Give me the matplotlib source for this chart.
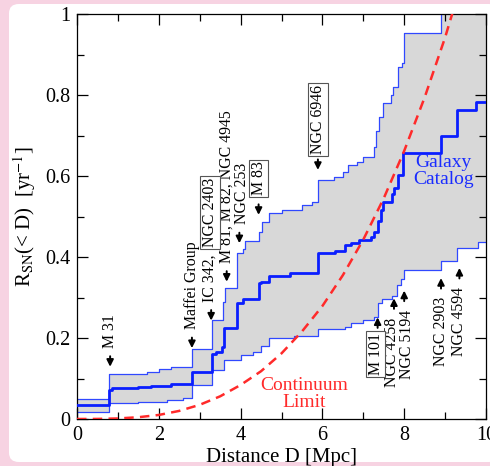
import matplotlib
matplotlib.use('Agg')
import matplotlib.pyplot as plt
from matplotlib.patches import FancyBboxPatch
import numpy as np

plt.rcParams['font.family'] = ['Liberation Serif', 'DejaVu Serif']
plt.rcParams['mathtext.fontset'] = 'stix'

# --- galaxy catalog: upper / lower band and central value (steps, where='post')
upper_d = [0, 0.78, 1.7, 2.0, 2.3, 2.8, 3.3, 3.58, 3.62, 3.9, 4.05, 4.1, 4.45, 4.52, 4.7, 5.0,
           5.5, 5.75, 5.9, 6.28, 6.5, 6.62, 6.85, 7.0, 7.26, 7.32, 7.38, 7.47, 7.67, 7.72, 7.84,
           7.95, 8.0, 8.9, 10]
upper_v = [0.049, 0.111, 0.116, 0.124, 0.128, 0.173, 0.244, 0.29, 0.323, 0.41, 0.42, 0.44, 0.462,
           0.487, 0.508, 0.515, 0.528, 0.535, 0.59, 0.598, 0.61, 0.627, 0.635, 0.648, 0.672, 0.71,
           0.746, 0.78, 0.80, 0.82, 0.87, 0.88, 0.952, 1.05, 1.05]

lower_d = [0, 0.78, 1.5, 2.2, 2.6, 2.8, 3.3, 3.6, 4.0, 4.3, 4.5, 4.7, 5.3, 5.9, 6.55, 6.7, 7.0,
           7.25, 7.35, 7.45, 7.7, 7.83, 7.92, 8.0, 8.9, 9.3, 9.8, 10]
lower_v = [0.018, 0.039, 0.042, 0.046, 0.052, 0.084, 0.121, 0.146, 0.158, 0.165, 0.18, 0.2, 0.205,
           0.222, 0.227, 0.237, 0.244, 0.253, 0.286, 0.296, 0.304, 0.331, 0.345, 0.368, 0.39,
           0.422, 0.437, 0.437]

mid_d = [0, 0.78, 0.85, 1.5, 1.8, 2.3, 2.8, 3.3, 3.4, 3.55, 3.6, 3.9, 4.05, 4.45, 4.5, 4.7, 5.2,
         5.9, 6.3, 6.55, 6.7, 6.9, 7.2, 7.27, 7.35, 7.43, 7.47, 7.7, 7.75, 7.84, 7.98, 8.9, 9.3,
         9.75, 10]
mid_v = [0.035, 0.072, 0.076, 0.079, 0.082, 0.086, 0.115, 0.16, 0.165, 0.178, 0.224, 0.286, 0.297,
         0.335, 0.339, 0.353, 0.36, 0.41, 0.415, 0.43, 0.434, 0.442, 0.45, 0.462, 0.49, 0.516,
         0.537, 0.555, 0.57, 0.602, 0.656, 0.70, 0.763, 0.783, 0.783]

# --- continuum limit
cont_d = [0, 0.5, 1, 1.5, 2, 2.5, 3, 3.5, 4, 4.5, 5, 5.5, 6, 6.5, 7, 7.5, 8, 8.5, 9, 9.5]
cont_v = [0, 0.0002, 0.0013, 0.0044, 0.010, 0.020, 0.035, 0.056, 0.084, 0.118, 0.162, 0.216,
          0.279, 0.355, 0.443, 0.545, 0.662, 0.794, 0.942, 1.11]

# --- galaxy labels: (text, text column, arrow column, arrow tip)
down_labels = [('M 31', 0.81, 0.81, 0.129), ('Maffei Group', 2.81, 2.81, 0.175),
               ('IC 342,', 3.25, 3.28, 0.243), ('M 81, M 82, NGC 4945', 3.67, 3.66, 0.339),
               ('NGC 253', 4.03, 3.97, 0.434)]
up_labels = [('NGC 4258', 7.7, 7.75, 0.298), ('NGC 5194', 8.08, 8.0, 0.317),
             ('NGC 2903', 8.9, 8.9, 0.348), ('NGC 4594', 9.35, 9.35, 0.373)]
# boxed names: (text, distance, text end, arrow tip or None)
down_boxed = [('NGC 2403', 3.25, 0.425, None), ('M 83', 4.44, 0.552, 0.504),
              ('NGC 6946', 5.89, 0.655, 0.615)]
up_boxed = [('M 101', 7.3, 0.212, 0.251)]


def step_path(d, v):
    xs, ys = [], []
    for i in range(len(d) - 1):
        xs += [d[i], d[i + 1]]
        ys += [v[i], v[i]]
    return np.array(xs), np.array(ys)


def arrow(ax, d, tip, sign):
    # short black arrow, sign=-1 points down, +1 points up
    ax.annotate('', xy=(d, tip), xytext=(d, tip - sign * 0.026),
                arrowprops=dict(arrowstyle='-|>,head_length=0.4,head_width=0.2', lw=1.4,
                                color='black', shrinkA=0, shrinkB=0))


fig = plt.figure(figsize=(4.9, 4.66), dpi=100)
fig.patch.set_facecolor('#f7d3e2')
panel = FancyBboxPatch((9 / 490, 4 / 466), 1.0, 458 / 466, boxstyle='round,pad=0,rounding_size=0.02',
                       transform=fig.transFigure, fc='white', ec='none', zorder=-10)
fig.patches.append(panel)

ax = fig.add_axes([77 / 490, 1 - 419 / 466, (486 - 77) / 490, (419 - 14) / 466])
ax.set_facecolor('white')

xu, yu = step_path(upper_d, upper_v)
xl, yl = step_path(lower_d, lower_v)
xm, ym = step_path(mid_d, mid_v)
ax.fill(np.r_[xu, xl[::-1]], np.r_[yu, yl[::-1]], color='#d8d8d8', lw=0, zorder=1)
ax.plot(xu, yu, color='#3048ff', lw=0.9, zorder=2)
ax.plot(xl, yl, color='#3048ff', lw=0.9, zorder=2)
ax.plot(xm, ym, color='#0a1eff', lw=2.0, zorder=3)
ax.plot(cont_d, cont_v, color='#ff2a2a', lw=1.8, dashes=(3.8, 2.5), zorder=4)

# labels
fs = 11.4
box = dict(boxstyle='square,pad=0.12', fc='white', ec='#555555', lw=0.8)
for name, dt, da, tip in down_labels:
    arrow(ax, da, tip, -1)
    ax.text(dt, tip + 0.047, name, rotation=90, ha='center', va='bottom', fontsize=fs)
for name, dt, da, tip in up_labels:
    arrow(ax, da, tip, 1)
    ax.text(dt, tip - 0.047, name, rotation=90, ha='center', va='top', fontsize=fs)
for name, d, y0, tip in down_boxed:
    ax.text(d, y0, name, rotation=90, ha='center', va='bottom', fontsize=fs, bbox=box)
    if tip is not None:
        arrow(ax, d, tip, -1)
for name, d, y0, tip in up_boxed:
    ax.text(d, y0, name, rotation=90, ha='center', va='top', fontsize=fs, bbox=box)
    arrow(ax, d + 0.05, tip, 1)

ax.text(8.97, 0.612, 'Galaxy\nCatalog', color='#1a2cff', fontsize=14, ha='center', va='center',
        linespacing=0.95, zorder=5)
ax.text(5.55, 0.062, 'Continuum\nLimit', color='#ff2a2a', fontsize=14, ha='center', va='center',
        linespacing=0.95, zorder=5)

ax.set_xlim(0, 10)
ax.set_ylim(0, 1)
ax.set_xticks([0, 2, 4, 6, 8, 10])
ax.set_xticklabels(['0', '2', '4', '6', '8', '10'])
ax.set_xticks([1, 3, 5, 7, 9], minor=True)
ax.set_yticks([0, 0.2, 0.4, 0.6, 0.8, 1])
ax.set_yticklabels(['0', '0.2', '0.4', '0.6', '0.8', '1'])
ax.set_yticks([0.1, 0.3, 0.5, 0.7, 0.9], minor=True)
ax.tick_params(which='both', direction='in', top=True, right=True, width=0.9, labelsize=14.5)
ax.tick_params(which='major', length=8, pad=5)
ax.tick_params(which='minor', length=5)
for s in ax.spines.values():
    s.set_linewidth(0.9)

ax.set_xlabel('Distance D [Mpc]', fontsize=15, labelpad=2)
ax.set_ylabel('R$_{\\mathrm{SN}}$(< D)  [yr$^{-1}$]', fontsize=15, labelpad=5)

fig.savefig('out.png', dpi=100, facecolor=fig.get_facecolor())
